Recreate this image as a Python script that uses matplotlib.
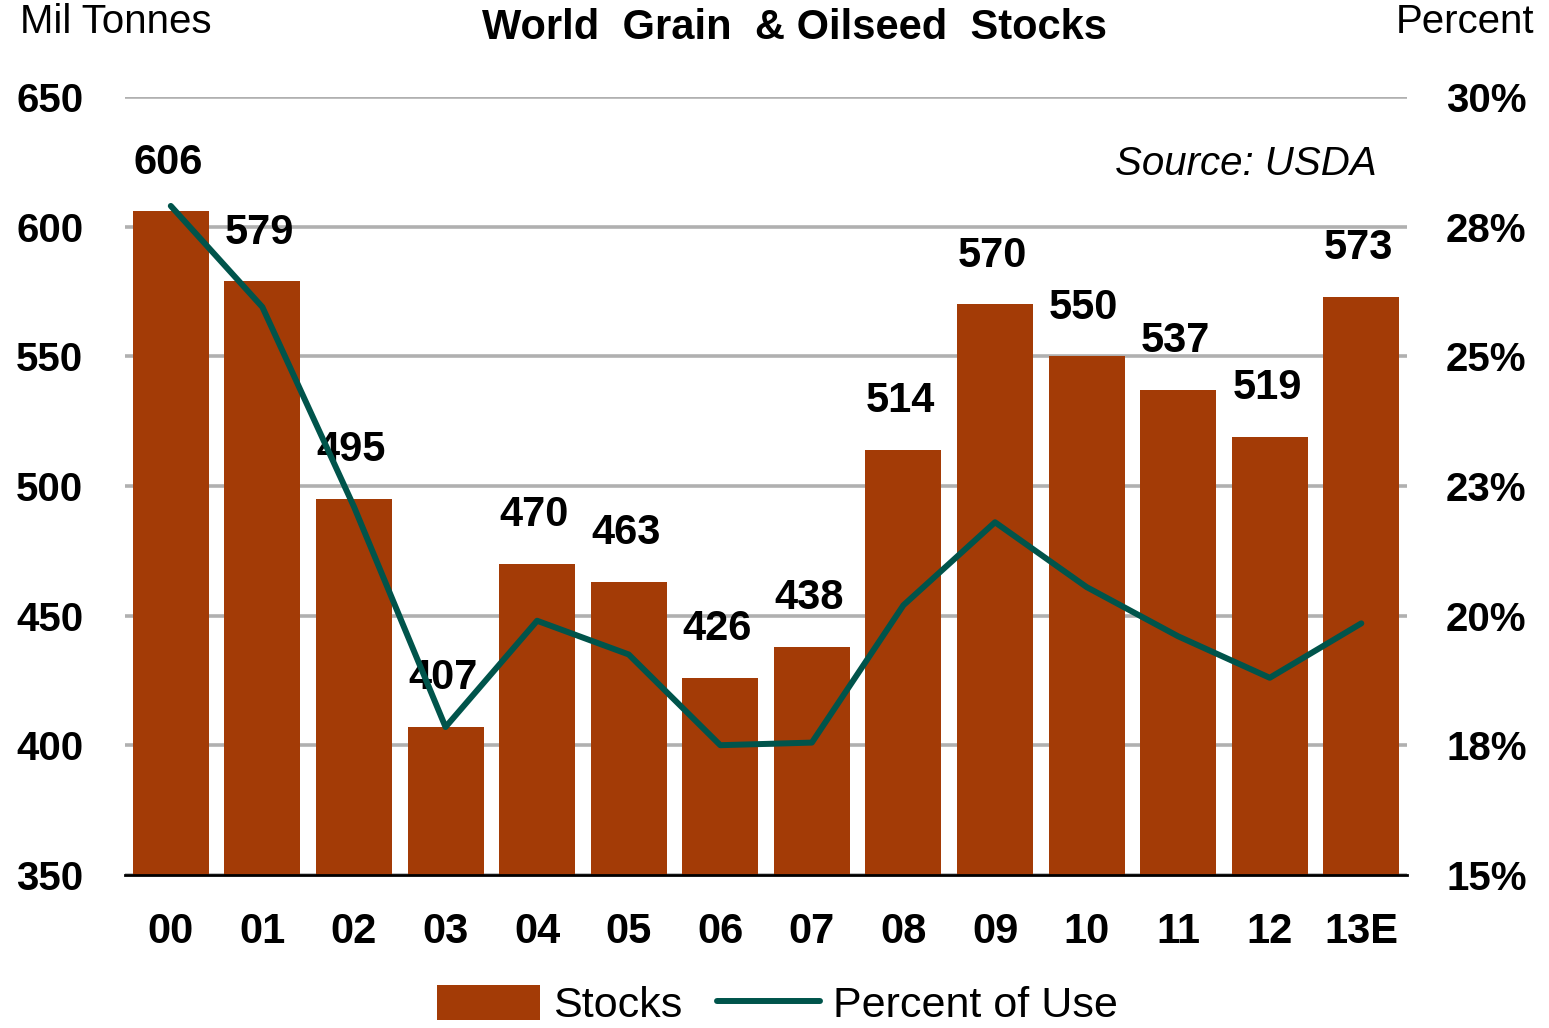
import matplotlib
matplotlib.use("Agg")
import matplotlib.pyplot as plt
from matplotlib.patches import Patch
from matplotlib.lines import Line2D

plt.rcParams['font.family'] = ['Liberation Sans', 'DejaVu Sans']

years = ["00", "01", "02", "03", "04", "05", "06", "07", "08", "09", "10", "11", "12", "13E"]
stocks = [606, 579, 495, 407, 470, 463, 426, 438, 514, 570, 550, 537, 519, 573]
pct_use = [27.9, 25.95, 22.1, 17.85, 19.9, 19.25, 17.5, 17.55, 20.2, 21.8, 20.55, 19.6, 18.8, 19.85]
left_ticks = [350, 400, 450, 500, 550, 600, 650]
right_ticks = [15, 17.5, 20, 22.5, 25, 27.5, 30]
right_labels = ["15%", "18%", "20%", "23%", "25%", "28%", "30%"]

bar_color = "#A33B06"
line_color = "#00544B"

fig = plt.figure(figsize=(15.49, 10.28), dpi=100)
ax = fig.add_axes([0.0807, 0.149, 0.8277, 0.7566])
x = list(range(len(years)))
ax.bar(x, stocks, width=0.83, color=bar_color, zorder=2)
ax.set_xlim(-0.5, len(years) - 0.5)
ax.set_ylim(350, 650)
ax.set_yticks(left_ticks)
ax.set_yticklabels([str(t) for t in left_ticks], fontsize=29, fontweight='bold')
ax.grid(axis='y', color='#B0B0B0', linewidth=2.6, zorder=0)
ax.set_axisbelow(True)
for s in ['top', 'right', 'left']:
    ax.spines[s].set_visible(False)
ax.spines['bottom'].set_color('black')
ax.spines['bottom'].set_linewidth(2)
ax.spines['bottom'].set_zorder(3)
ax.tick_params(axis='y', length=0, pad=30)
ax.tick_params(axis='x', length=0, pad=27)
ax.set_xticks(x)
ax.set_xticklabels(years, fontsize=30, fontweight='bold')

for xi, v in zip(x, stocks):
    ax.annotate(str(v), (xi, v), xytext=(-2, 35), textcoords='offset points',
                ha='center', va='center', fontsize=30, fontweight='bold', zorder=5)

ax2 = ax.twinx()
ax2.set_ylim(15, 30)
ax2.set_yticks(right_ticks)
ax2.set_yticklabels(right_labels, fontsize=29, fontweight='bold')
ax2.tick_params(axis='y', length=0, pad=28)
for s in ['top', 'right', 'left', 'bottom']:
    ax2.spines[s].set_visible(False)
ax2.plot(x, pct_use, color=line_color, linewidth=4.3, solid_capstyle='round',
         solid_joinstyle='round', zorder=4)

fig.text(0.075, 0.979, "Mil Tonnes", fontsize=29, ha='center', va='center')
fig.text(0.946, 0.979, "Percent", fontsize=29, ha='center', va='center')
fig.text(0.513, 0.973, "World  Grain  & Oilseed  Stocks", fontsize=30,
         fontweight='bold', ha='center', va='center')
fig.text(0.804, 0.84, "Source: USDA", fontsize=29, style='italic',
         ha='center', va='center')

handles = [Patch(facecolor=bar_color, edgecolor='none'),
           Line2D([0], [0], color=line_color, linewidth=4.3, solid_capstyle='round')]
fig.legend(handles, ["Stocks", "Percent of Use"], loc='center',
           bbox_to_anchor=(0.502, 0.022), ncol=2, frameon=False, fontsize=31,
           handlelength=2.4, handleheight=0.9, handletextpad=0.3, columnspacing=0.8)

fig.savefig("out.png", dpi=100)
